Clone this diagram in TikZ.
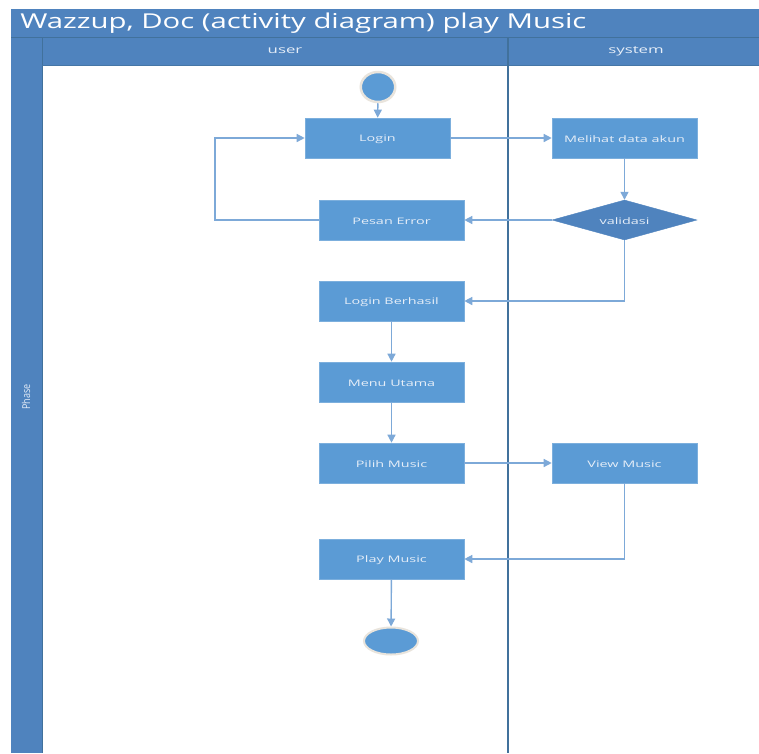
\documentclass[tikz,border=0pt]{standalone}
\usepackage{fontspec}
\setmainfont{Open Sans}
\usetikzlibrary{shapes.geometric,arrows.meta}
\definecolor{hdr}{HTML}{4F83BE}
\definecolor{hdrline}{HTML}{41719C}
\definecolor{actfill}{HTML}{5B9BD5}
\definecolor{flow}{HTML}{7DA9D8}
\definecolor{ring}{HTML}{E9E4DC}
\definecolor{softwhite}{HTML}{E6EEF8}
\begin{document}
\begin{tikzpicture}[x=1pt,y=-1pt,
  act/.style={rectangle,fill=actfill,draw=actfill!80!white,line width=0.6pt,minimum width=145pt,minimum height=40pt,inner sep=0pt},
  dec/.style={diamond,fill=hdr,draw=hdr,minimum width=145pt,minimum height=40pt,aspect=3.6,inner sep=0pt},
  lbl/.style={text=softwhite,font=\fontsize{9}{11}\selectfont,xscale=1.6,inner sep=0pt},
  flowline/.style={draw=flow,line width=1.4pt,-{Triangle[length=8pt,width=8pt]}},
  lanehdr/.style={text=softwhite,font=\fontsize{10.5}{12}\selectfont,xscale=1.6}]
\useasboundingbox (0,0) rectangle (759,753);
\fill[white] (0,0) rectangle (759,753);
% swimlane frame
\fill[hdr] (11,9) rectangle (759,753);
\fill[white] (43,65) rectangle (759,753);
\draw[hdrline,line width=0.6pt] (11,37) -- (759,37);
\draw[hdrline,line width=0.6pt] (42,37) -- (42,753);
\draw[hdrline!70!hdr,line width=0.5pt] (42,65) -- (759,65);
\draw[hdrline,line width=1.6pt] (508,37) -- (508,753);
\node[anchor=west,text=white,font=\fontsize{20.5}{24}\selectfont,inner sep=0pt,xscale=1.43] (title) at (20,23) {Wazzup, Doc (activity diagram) play Music};
\node[lanehdr] (userlane) at (285,51) {user};
\node[lanehdr] (syslane) at (636,51) {system};
\node[rotate=90,text=softwhite,font=\fontsize{9}{11}\selectfont,yscale=1.2] (phase) at (26,397) {Phase};
% activities
\node[circle,fill=actfill,draw=ring,line width=2.5pt,minimum size=30pt,inner sep=0pt,xscale=1.15] (start) at (378,87) {};
\node[act] (login) at (377.5,138) {};
\node[act] (lihat) at (624.5,138) {};
\node[dec] (valid) at (624.5,220) {};
\node[act] (error) at (391.5,220) {};
\node[act] (ok) at (391.5,301) {};
\node[act] (menu) at (391.5,382) {};
\node[act] (pilih) at (391.5,463) {};
\node[act] (view) at (624.5,463) {};
\node[act] (play) at (391.5,559) {};
\node[ellipse,fill=actfill,draw=ring,line width=2pt,minimum width=54pt,minimum height=27pt,inner sep=0pt] (stop) at (391,641) {};
% activity labels, set wide like the rest of the lettering
\node[lbl] at ([yshift=-1pt]login) {Login};
\node[lbl] at ([yshift=-1pt]lihat) {Melihat data akun};
\node[lbl] at ([yshift=-1pt]valid) {validasi};
\node[lbl] at ([yshift=-1pt]error) {Pesan Error};
\node[lbl] at ([yshift=-1pt]ok) {Login Berhasil};
\node[lbl] at ([yshift=-1pt]menu) {Menu Utama};
\node[lbl] at ([yshift=-1pt]pilih) {Pilih Music};
\node[lbl] at ([yshift=-1pt]view) {View Music};
\node[lbl] at ([yshift=-1pt]play) {Play Music};
\coordinate (loopback) at (215,220);
% flows
\draw[flowline] (start) -- (login);
\draw[flowline] (login) -- (lihat);
\draw[flowline] (lihat) -- (valid);
\draw[flowline] (valid) -- (error);
\draw[flowline] (error.west) -- (loopback) |- (login.west);
\draw[flowline] (valid.south) |- (ok.east);
\draw[flowline] (ok) -- (menu);
\draw[flowline] (menu) -- (pilih);
\draw[flowline] (pilih) -- (view);
\draw[flowline] (view.south) |- (play.east);
\draw[flowline] (play) -- (stop);
\end{tikzpicture}
\end{document}
